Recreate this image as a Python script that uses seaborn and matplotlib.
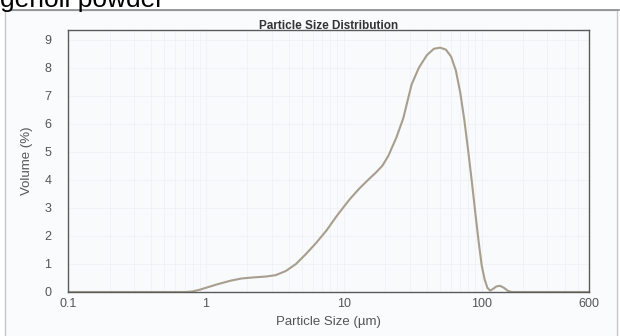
import matplotlib
matplotlib.use("Agg")
import matplotlib.pyplot as plt
from matplotlib.patches import Rectangle
from matplotlib.ticker import FixedLocator, FixedFormatter, LogLocator, NullFormatter
import seaborn as sns
import pandas as pd

# Particle size distribution (volume %) measured by laser diffraction
particle_size_um = [0.1, 0.72, 0.8, 0.9, 1.0, 1.2, 1.5, 1.8, 2.2, 2.7, 3.2, 3.8,
                    4.5, 5.3, 6.3, 7.5, 9, 11, 13, 15, 17, 19, 21, 24, 27, 31,
                    35, 40, 45, 50, 55, 60, 65, 70, 75, 80, 85, 90, 95, 100,
                    105, 110, 115, 120, 128, 136, 145, 155, 165, 600]
volume_pct = [0, 0, 0.02, 0.08, 0.15, 0.27, 0.4, 0.48, 0.52, 0.55, 0.6, 0.75,
              1.0, 1.35, 1.75, 2.2, 2.75, 3.3, 3.7, 4.0, 4.25, 4.5, 4.85, 5.5,
              6.2, 7.4, 8.0, 8.45, 8.68, 8.72, 8.65, 8.4, 7.9, 7.1, 6.1, 5.0,
              3.9, 2.8, 1.8, 0.95, 0.45, 0.15, 0.05, 0.1, 0.2, 0.22, 0.15,
              0.04, 0, 0]

x_ticks = [0.1, 1, 10, 100, 600]
x_tick_labels = ["0.1", "1", "10", "100", "600"]
y_ticks = [0, 1, 2, 3, 4, 5, 6, 7, 8, 9]

df = pd.DataFrame({"size": particle_size_um, "volume": volume_pct})

sns.set_theme(style="white")
plt.rcParams["font.family"] = ["Liberation Sans Narrow", "Liberation Sans", "DejaVu Sans"]

fig = plt.figure(figsize=(6.2, 3.36), dpi=100)
fig.patch.set_facecolor("white")

# outer panel frame, drawn beneath the axes
fig.patches.append(Rectangle((5 / 620, -0.05), 612 / 620, 1 - 10 / 336 + 0.05,
                             transform=fig.transFigure, facecolor="#fafbfc",
                             edgecolor="#c4c6c9", linewidth=1.0, zorder=-5))
fig.lines.append(plt.Line2D([10 / 620, 1.0], [1 - 10 / 336] * 2,
                            transform=fig.transFigure, color="#8a8c8f",
                            linewidth=1.2, zorder=-4))

# caption text partly cut at the top edge
fig.text(0.0, 1 - 7 / 336, "genoil powder", fontsize=19, color="black",
         family=["Liberation Sans", "DejaVu Sans"], ha="left", va="baseline")

ax = fig.add_axes([68 / 620, 1 - 292 / 336, (589 - 68) / 620, (292 - 30) / 336])
ax.set_facecolor("#f9fafc")

sns.lineplot(data=df, x="size", y="volume", ax=ax, color="#a89e8e",
             linewidth=1.5, estimator=None, sort=False)

ax.set_xscale("log")
ax.set_xlim(0.1, 600)
ax.set_ylim(0, 9.35)

ax.xaxis.set_major_locator(FixedLocator(x_ticks))
ax.xaxis.set_major_formatter(FixedFormatter(x_tick_labels))
ax.xaxis.set_minor_locator(LogLocator(base=10, subs=range(2, 10)))
ax.xaxis.set_minor_formatter(NullFormatter())
ax.yaxis.set_major_locator(FixedLocator(y_ticks))

ax.grid(True, which="both", color="#f0f1f4", linewidth=0.6)
ax.tick_params(axis="both", which="both", length=0, labelsize=9,
               labelcolor="#555555")
ax.tick_params(axis="y", pad=12)
ax.tick_params(axis="x", pad=4)

for s in ax.spines.values():
    s.set_color("#5a5a5a")
    s.set_linewidth(1.0)

ax.set_xlabel("Particle Size (µm)", fontsize=9.5, color="#555555", labelpad=5)
ax.set_ylabel("Volume (%)", fontsize=9.5, color="#555555", labelpad=8)
ax.set_title("Particle Size Distribution", fontsize=8.5, color="#333333",
             fontweight="bold", pad=1)

fig.savefig("out.png", dpi=100)
